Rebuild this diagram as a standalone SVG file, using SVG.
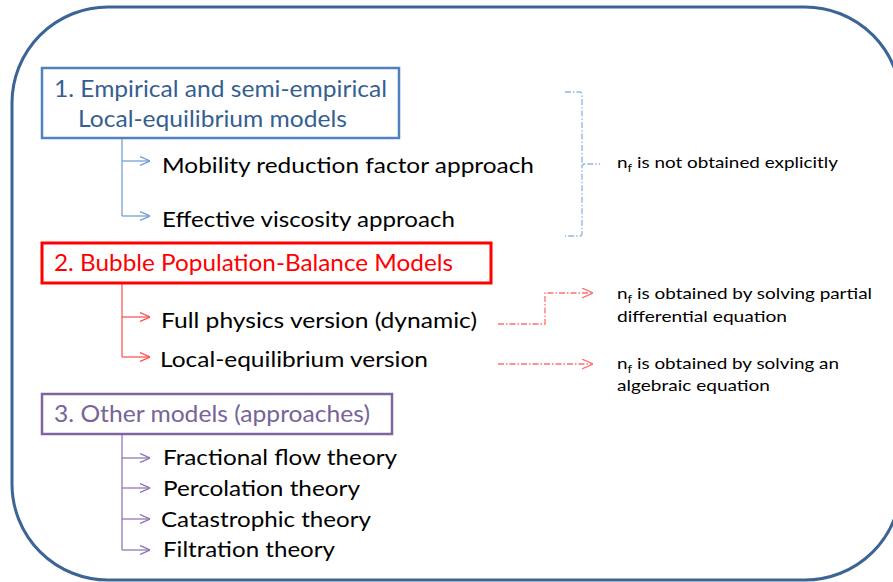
<svg xmlns="http://www.w3.org/2000/svg" width="893" height="582" viewBox="0 0 893 582">
<defs>
<style>
text{font-family:Lato,"Open Sans","Liberation Sans",sans-serif}
.h{font-size:23px}
.i{font-size:22px;fill:#000}
.s{font-size:16px;fill:#000}
.sub{font-size:11px}
.c1{stroke:#6C98D2;stroke-width:1.2;fill:none}
.c2{stroke:#FF4A4A;stroke-width:1.2;fill:none}
.c3{stroke:#8A6EAE;stroke-width:1.2;fill:none}
.d1{stroke:#8EB4E3;stroke-width:1.3;fill:none;stroke-dasharray:6 2 1.5 2}
.d2{stroke:#FF7070;stroke-width:1.3;fill:none;stroke-dasharray:6 2 1.5 2}
</style>
<marker id="a1" viewBox="0 0 10 10" refX="10" refY="5" markerWidth="10" markerHeight="10" markerUnits="userSpaceOnUse" orient="auto"><path d="M0,0.5 L10,5 L0,9.5" fill="none" stroke="#6C98D2" stroke-width="1.2"/></marker>
<marker id="a2" viewBox="0 0 10 10" refX="10" refY="5" markerWidth="10" markerHeight="10" markerUnits="userSpaceOnUse" orient="auto"><path d="M0,0.5 L10,5 L0,9.5" fill="none" stroke="#FF4A4A" stroke-width="1.2"/></marker>
<marker id="a3" viewBox="0 0 10 10" refX="10" refY="5" markerWidth="10" markerHeight="10" markerUnits="userSpaceOnUse" orient="auto"><path d="M0,0.5 L10,5 L0,9.5" fill="none" stroke="#8A6EAE" stroke-width="1.2"/></marker>
<marker id="a4" viewBox="0 0 10 10" refX="10" refY="5" markerWidth="11" markerHeight="11" markerUnits="userSpaceOnUse" orient="auto"><path d="M0,0.5 L10,5 L0,9.5" fill="none" stroke="#FF7070" stroke-width="1.2"/></marker>
</defs>
<rect width="893" height="582" fill="#fff"/>
<rect id="frame" x="12" y="7" width="889" height="573" rx="96" ry="96" fill="none" stroke="#3C6595" stroke-width="3"/>

<g id="connectors">
<path class="c1" d="M122,138 V216"/>
<path class="c1" d="M122,161 H150" marker-end="url(#a1)"/>
<path class="c1" d="M122,216 H150" marker-end="url(#a1)"/>
<path class="c2" d="M122,283 V357"/>
<path class="c2" d="M122,317 H150" marker-end="url(#a2)"/>
<path class="c2" d="M122,357 H150" marker-end="url(#a2)"/>
<path class="c3" d="M122,434 V550"/>
<path class="c3" d="M122,458 H150" marker-end="url(#a3)"/>
<path class="c3" d="M122,488 H150" marker-end="url(#a3)"/>
<path class="c3" d="M122,519 H150" marker-end="url(#a3)"/>
<path class="c3" d="M122,550 H150" marker-end="url(#a3)"/>
<path class="d1" d="M565,92 H580 Q582,92 582,95 V161 Q582,164 585,164 H600 M585,164 Q582,164 582,167 V233 Q582,236 580,236 H565"/>
<path class="d2" d="M498,324 H545 V293 H593" marker-end="url(#a4)"/>
<path class="d2" d="M498,364 H593" marker-end="url(#a4)"/>
</g>

<g id="box1">
<rect x="42" y="68" width="357" height="70" fill="#fff" stroke="#4F81BD" stroke-width="2.5"/>
<text class="h" x="54" y="97" fill="#365F91" textLength="333" lengthAdjust="spacingAndGlyphs">1. Empirical and semi-empirical</text>
<text class="h" x="78" y="127" fill="#365F91" textLength="269" lengthAdjust="spacingAndGlyphs">Local-equilibrium models</text>
</g>
<g id="item1a"><text class="i" x="162" y="173" textLength="372" lengthAdjust="spacingAndGlyphs">Mobility reduction factor approach</text></g>
<g id="item1b"><text class="i" x="162" y="227" textLength="293" lengthAdjust="spacingAndGlyphs">Effective viscosity approach</text></g>
<g id="note1"><text class="s" x="617" y="168" textLength="221" lengthAdjust="spacingAndGlyphs">n<tspan class="sub" dy="4">f</tspan><tspan dy="-4"> is not obtained explicitly</tspan></text></g>

<g id="box2">
<rect x="42" y="243" width="449" height="40" fill="#fff" stroke="#FF0000" stroke-width="3"/>
<text class="h" x="54" y="271" fill="#FF0000" textLength="399" lengthAdjust="spacingAndGlyphs">2. Bubble Population-Balance Models</text>
</g>
<g id="item2a"><text class="i" x="161" y="328" textLength="316" lengthAdjust="spacingAndGlyphs">Full physics version (dynamic)</text></g>
<g id="item2b"><text class="i" x="160" y="367" textLength="268" lengthAdjust="spacingAndGlyphs">Local-equilibrium version</text></g>
<g id="note2">
<text class="s" x="617" y="299" textLength="255" lengthAdjust="spacingAndGlyphs">n<tspan class="sub" dy="4">f</tspan><tspan dy="-4"> is obtained by solving partial</tspan></text>
<text class="s" x="617" y="322" textLength="170" lengthAdjust="spacingAndGlyphs">differential equation</text>
</g>
<g id="note3">
<text class="s" x="617" y="369" textLength="222" lengthAdjust="spacingAndGlyphs">n<tspan class="sub" dy="4">f</tspan><tspan dy="-4"> is obtained by solving an</tspan></text>
<text class="s" x="617" y="391" textLength="153" lengthAdjust="spacingAndGlyphs">algebraic equation</text>
</g>

<g id="box3">
<rect x="42" y="394" width="350" height="40" fill="#fff" stroke="#8064A2" stroke-width="2.5"/>
<text class="h" x="54" y="422" fill="#76649A" textLength="316" lengthAdjust="spacingAndGlyphs">3. Other models (approaches)</text>
</g>
<g id="item3a"><text class="i" x="163" y="465" textLength="234" lengthAdjust="spacingAndGlyphs">Fractional flow theory</text></g>
<g id="item3b"><text class="i" x="163" y="496" textLength="197" lengthAdjust="spacingAndGlyphs">Percolation theory</text></g>
<g id="item3c"><text class="i" x="161" y="527" textLength="210" lengthAdjust="spacingAndGlyphs">Catastrophic theory</text></g>
<g id="item3d"><text class="i" x="163" y="557" textLength="172" lengthAdjust="spacingAndGlyphs">Filtration theory</text></g>
</svg>
